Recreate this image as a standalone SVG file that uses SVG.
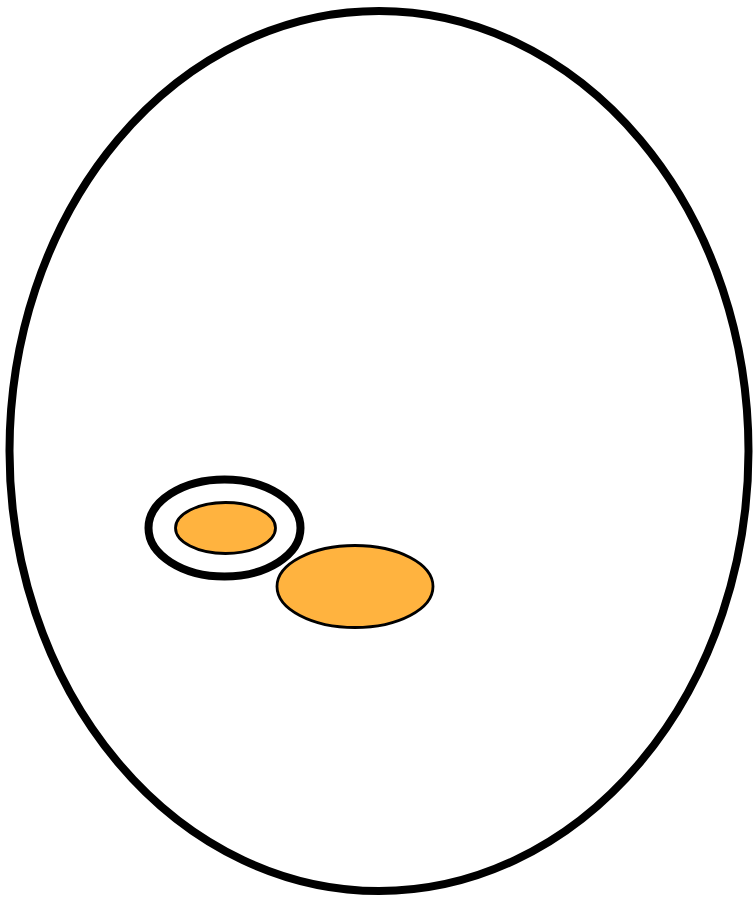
<svg xmlns="http://www.w3.org/2000/svg" width="754" height="900" viewBox="0 0 754 900">
<style>
.outer{fill:none;stroke:#000;stroke-width:8}
.ring{fill:#fff;stroke:#000;stroke-width:8}
.blob{fill:#FFB33F;stroke:#000;stroke-width:2.8}
</style>
<rect width="754" height="900" fill="#fff"/>
<g id="outer"><ellipse class="outer" cx="379" cy="451" rx="369.5" ry="440"/></g>
<g id="ring"><ellipse class="ring" cx="224.5" cy="528" rx="76" ry="48.5"/></g>
<g id="inner"><ellipse class="blob" cx="225.5" cy="528" rx="50" ry="25.5"/></g>
<g id="blob"><ellipse class="blob" cx="355" cy="586.5" rx="78" ry="41"/></g>
<g id="connectors"/>
</svg>
